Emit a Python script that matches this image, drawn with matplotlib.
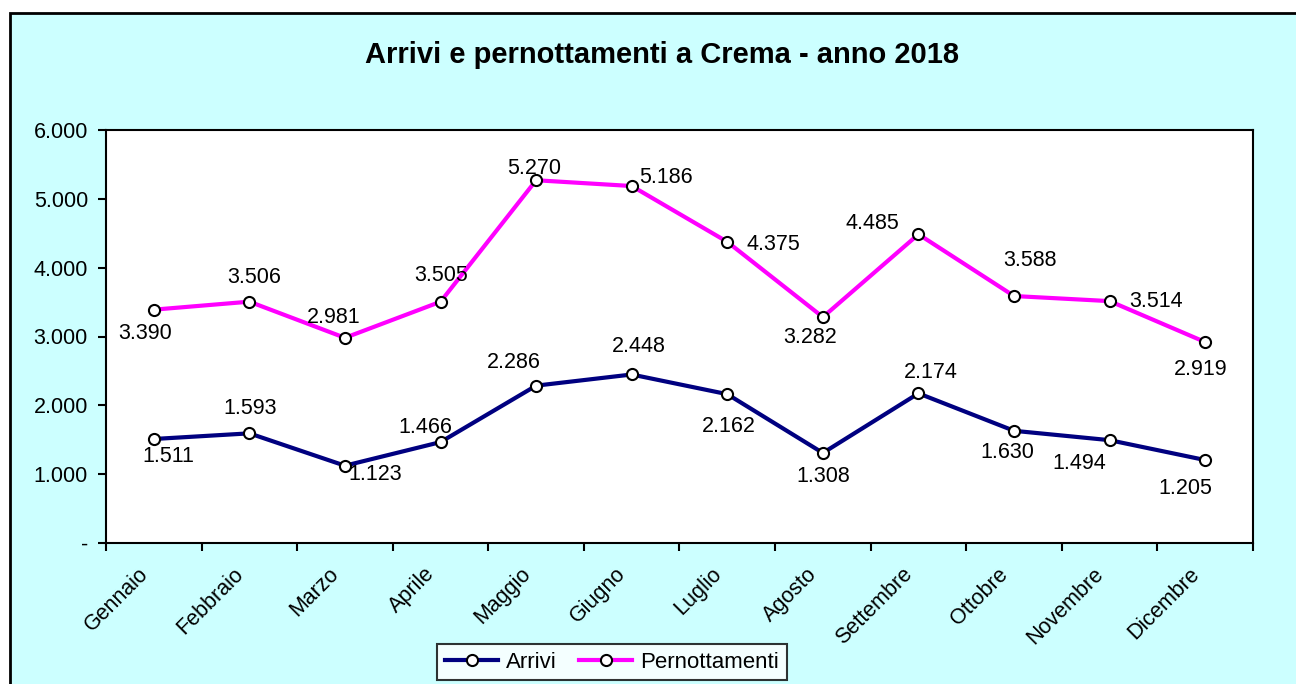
import matplotlib.pyplot as plt
from matplotlib.patches import Rectangle
from matplotlib.transforms import ScaledTranslation

plt.rcParams['font.family'] = ['Liberation Sans', 'DejaVu Sans']

mesi = ["Gennaio", "Febbraio", "Marzo", "Aprile", "Maggio", "Giugno",
        "Luglio", "Agosto", "Settembre", "Ottobre", "Novembre", "Dicembre"]
arrivi = [1511, 1593, 1123, 1466, 2286, 2448, 2162, 1308, 2174, 1630, 1494, 1205]
pernottamenti = [3390, 3506, 2981, 3505, 5270, 5186, 4375, 3282, 4485, 3588, 3514, 2919]

# label offsets in pixels (dx, dy), dy positive = up
off_arr = [(15, -18), (1, 25), (30, -9), (-15, 15), (-22, 23), (7, 28),
           (2, -32), (0, -24), (12, 21), (-7, -22), (-30, -23), (-20, -28)]
off_per = [(-9, -24), (5, 24), (-11, 20), (1, 26), (-2, 12), (34, 9),
           (46, -3), (-13, -20), (-46, 11), (16, 36), (46, 0), (-5, -27)]


def fmt(v):
    return f"{v:,}".replace(",", ".")


fig = plt.figure(figsize=(12.96, 6.84), dpi=100)
fig.patch.set_facecolor("white")
bg = Rectangle((10 / 1296, -0.1), 1.2, 1.1 - 13 / 684,
               transform=fig.transFigure, facecolor="#CCFFFF",
               edgecolor="black", linewidth=2, zorder=-10)
fig.patches.append(bg)

ax = fig.add_axes([106 / 1296, 1 - 543 / 684, 1147 / 1296, 413 / 684])
ax.set_facecolor("white")
x = list(range(len(mesi)))

ax.plot(x, arrivi, color="#000080", linewidth=3, marker="o", markersize=8,
        markerfacecolor="white", markeredgecolor="black", markeredgewidth=1.5,
        label="Arrivi", zorder=3)
ax.plot(x, pernottamenti, color="#FF00FF", linewidth=3, marker="o", markersize=8,
        markerfacecolor="white", markeredgecolor="black", markeredgewidth=1.5,
        label="Pernottamenti", zorder=3)

for xi, v, o in zip(x, arrivi, off_arr):
    ax.annotate(fmt(v), (xi, v), xytext=o, textcoords="offset pixels",
                ha="center", va="center", fontsize=15.5, zorder=4)
for xi, v, o in zip(x, pernottamenti, off_per):
    ax.annotate(fmt(v), (xi, v), xytext=o, textcoords="offset pixels",
                ha="center", va="center", fontsize=15.5, zorder=4)

ax.set_xlim(-0.5, len(mesi) - 0.5)
ax.set_ylim(0, 6000)
yt = [0, 1000, 2000, 3000, 4000, 5000, 6000]
ax.set_yticks(yt)
ax.set_yticklabels(["-"] + [fmt(v) for v in yt[1:]], fontsize=15.5)
ax.set_xticks([i - 0.5 for i in range(len(mesi) + 1)])
ax.set_xticklabels([])
ax.set_xticks(x, minor=True)
ax.set_xticklabels(mesi, minor=True, rotation=45, ha="right", va="center",
                   rotation_mode="anchor", fontsize=15.5)
ax.tick_params(axis="x", which="minor", length=0, pad=0)
shift = ScaledTranslation(-0.09, -0.28, fig.dpi_scale_trans)
for lab in ax.get_xticklabels(minor=True):
    lab.set_transform(lab.get_transform() + shift)
ax.tick_params(axis="both", which="major", direction="out", length=6, width=1.5)
ax.tick_params(axis="y", pad=7)
for s in ax.spines.values():
    s.set_linewidth(1.5)

fig.text(662 / 1296, 1 - 55 / 684, "Arrivi e pernottamenti a Crema - anno 2018",
         ha="center", va="center", fontsize=21, fontweight="bold")

leg = fig.legend(loc="center", bbox_to_anchor=(612 / 1296, 1 - 662 / 684), ncol=2,
                 fontsize=16, frameon=True, fancybox=False, edgecolor="black",
                 handlelength=2.4, columnspacing=1.0, handletextpad=0.35,
                 borderpad=0.35, borderaxespad=0)
leg.get_frame().set_linewidth(1.5)

fig.savefig("out.png", dpi=100, facecolor=fig.get_facecolor())
